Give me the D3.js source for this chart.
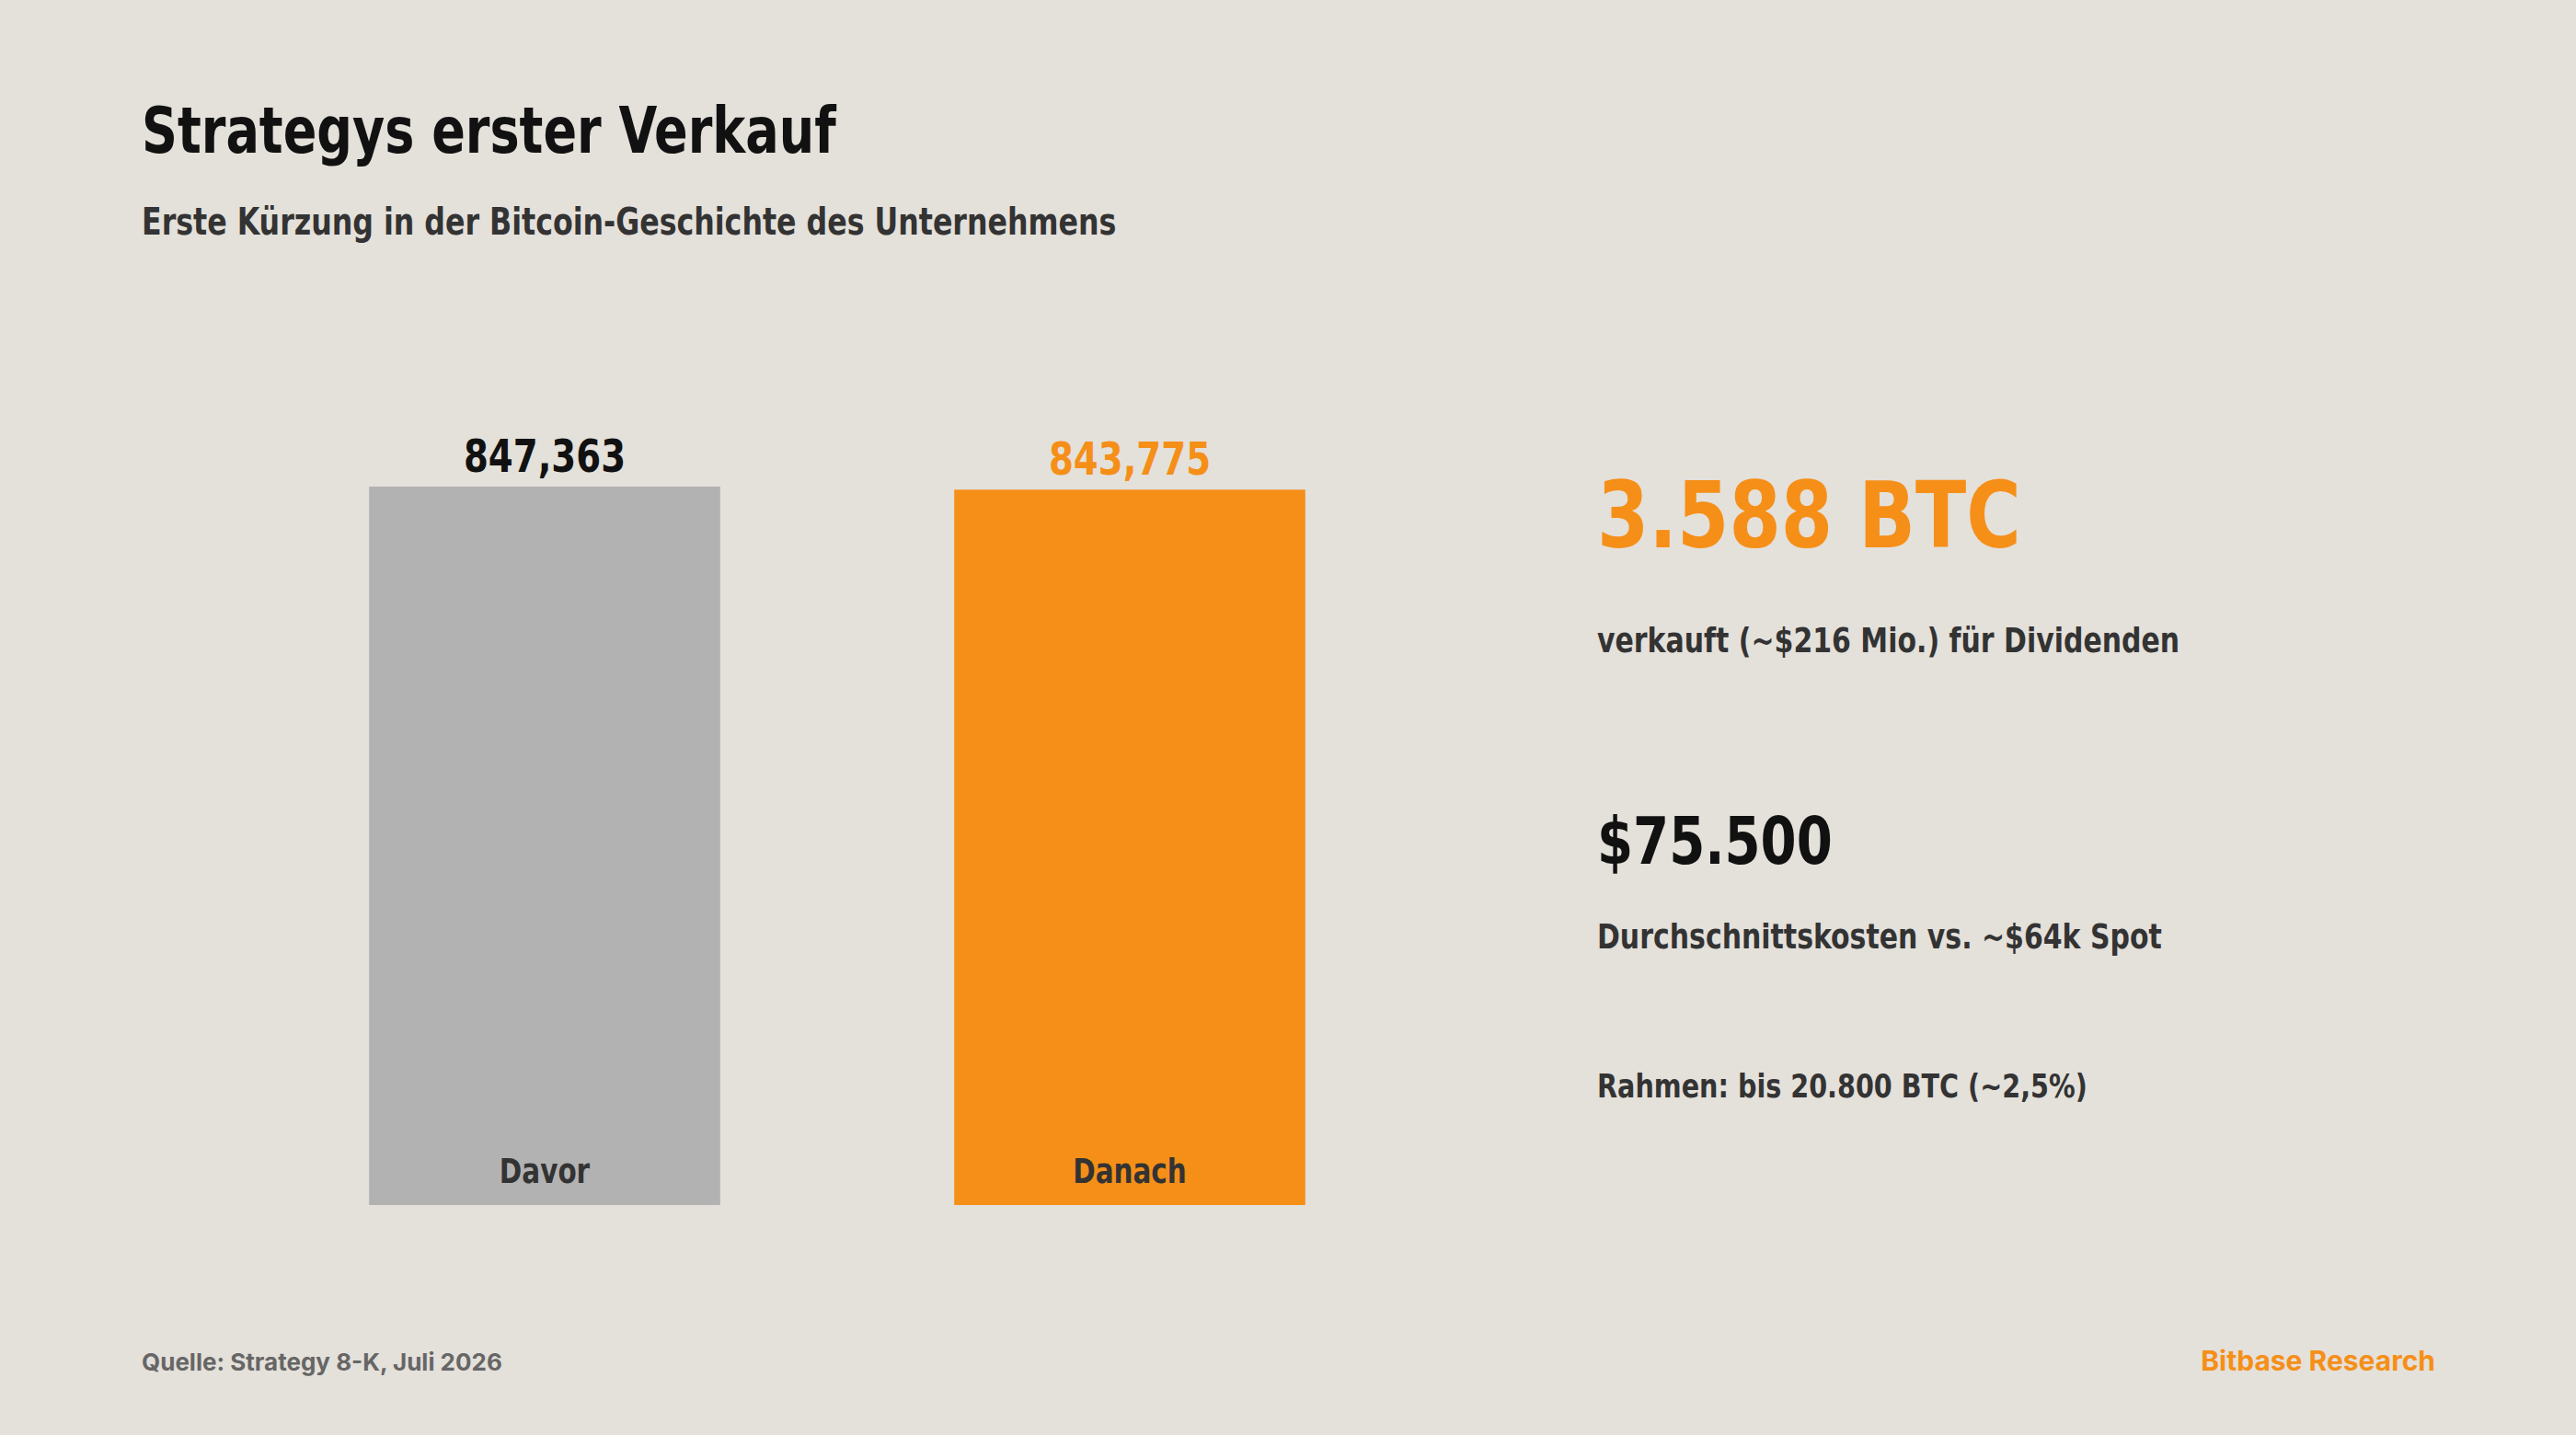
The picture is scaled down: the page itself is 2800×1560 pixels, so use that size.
<!DOCTYPE html>
<html>
<head>
<meta charset="utf-8">
<script src="https://cdn.jsdelivr.net/npm/d3@7"></script>
<style>
  html, body { margin: 0; padding: 0; background: #e4e0da; }
  svg { display: block; }
  .cond { font-family: "DejaVu Sans Condensed", "DejaVu Sans", sans-serif; font-weight: bold; }
  .foot { font-family: Inter, "Noto Sans", sans-serif; font-weight: 700; }
</style>
</head>
<body>
<svg></svg>
<script>
var width = 2800,
  height = 1560;

var categories = ['Davor', 'Danach'];
var holdings = [847363, 843775];
var valueLabels = ['847,363', '843,775'];
var barColors = ['#b2b2b2', '#f58f18'];
var labelColors = ['#111111', '#f58f18'];

var stats = [
  { text: '3.588 BTC', kind: 'big-orange' },
  { text: 'verkauft (~$216 Mio.) für Dividenden', kind: 'note' },
  { text: '$75.500', kind: 'big-dark' },
  { text: 'Durchschnittskosten vs. ~$64k Spot', kind: 'note' },
  { text: 'Rahmen: bis 20.800 BTC (~2,5%)', kind: 'small' }
];

var svg = d3.select("svg")
  .attr("width", width)
  .attr("height", height);

svg.append("rect")
  .attr("width", width)
  .attr("height", height)
  .attr("fill", "#e4e0da");

// squeeze the condensed face a bit more so it reads like the original grotesk
function squeeze(x, y, s) {
  return "translate(" + x + "," + y + ") scale(" + s + ",1)";
}

// title block
svg.append("text")
  .attr("class", "cond")
  .attr("transform", squeeze(154, 166, 0.858))
  .attr("font-size", 70)
  .attr("fill", "#111")
  .text("Strategys erster Verkauf");

svg.append("text")
  .attr("class", "cond")
  .attr("transform", squeeze(154, 255, 0.88))
  .attr("font-size", 40)
  .attr("fill", "#333")
  .text("Erste Kürzung in der Bitcoin-Geschichte des Unternehmens");

// bars
var x = d3.scaleBand()
  .domain(categories)
  .range([274, 1546])
  .paddingInner(0.4)
  .paddingOuter(0.2);

var y = d3.scaleLinear()
  .domain([0, 847363])
  .range([1310, 529]);

var g = svg.append("g");

g.selectAll(".bar")
  .data(categories)
  .enter().append("rect")
  .attr("class", "bar")
  .attr("x", function(d) { return x(d); })
  .attr("width", x.bandwidth())
  .attr("y", function(d, i) { return y(holdings[i]); })
  .attr("height", function(d, i) { return y(0) - y(holdings[i]); })
  .attr("fill", function(d, i) { return barColors[i]; });

g.selectAll(".val")
  .data(categories)
  .enter().append("text")
  .attr("class", "val cond")
  .attr("transform", function(d, i) {
    return squeeze(x(d) + x.bandwidth() / 2, y(holdings[i]) - 16, 0.86);
  })
  .attr("text-anchor", "middle")
  .attr("font-size", 50)
  .attr("fill", function(d, i) { return labelColors[i]; })
  .text(function(d, i) { return valueLabels[i]; });

g.selectAll(".cat")
  .data(categories)
  .enter().append("text")
  .attr("class", "cat cond")
  .attr("transform", function(d) {
    return squeeze(x(d) + x.bandwidth() / 2, y(0) - 24, 0.885);
  })
  .attr("text-anchor", "middle")
  .attr("font-size", 37)
  .attr("fill", "#333")
  .text(function(d) { return d; });

// right-hand stats
var statY = [595, 709, 939, 1031, 1193];
var statStyle = {
  'big-orange': { size: 100, fill: '#f58f18', sx: 0.9 },
  'big-dark': { size: 72, fill: '#111', sx: 0.867 },
  'note': { size: 37, fill: '#333', sx: 0.9 },
  'small': { size: 35, fill: '#333', sx: 0.91 }
};

svg.selectAll(".stat")
  .data(stats)
  .enter().append("text")
  .attr("class", "stat cond")
  .attr("transform", function(d, i) { return squeeze(1736, statY[i], statStyle[d.kind].sx); })
  .attr("font-size", function(d) { return statStyle[d.kind].size; })
  .attr("fill", function(d) { return statStyle[d.kind].fill; })
  .text(function(d) { return d.text; });

// footer
svg.append("text")
  .attr("class", "foot")
  .attr("x", 154)
  .attr("y", 1490)
  .attr("font-size", 26)
  .attr("fill", "#666")
  .text("Quelle: Strategy 8-K, Juli 2026");

svg.append("text")
  .attr("class", "foot")
  .attr("x", 2647)
  .attr("y", 1490)
  .attr("text-anchor", "end")
  .attr("font-size", 30)
  .attr("fill", "#f58f18")
  .text("Bitbase Research");
</script>
</body>
</html>
